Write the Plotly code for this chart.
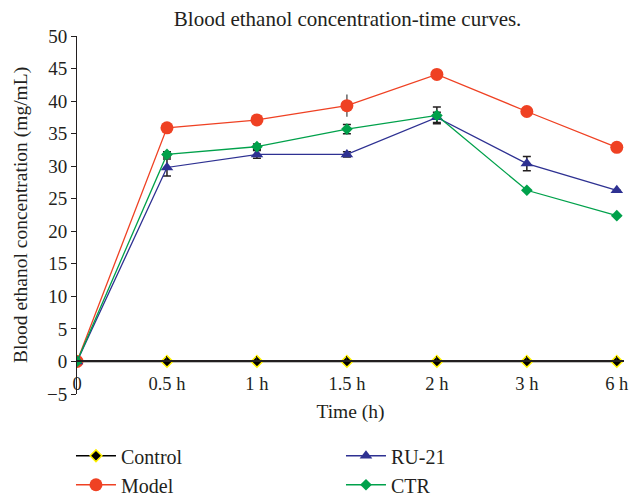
import plotly.graph_objects as go

times = ["0", "0.5 h", "1 h", "1.5 h", "2 h", "3 h", "6 h"]
xpos = [0, 1, 2, 3, 4, 5, 6]

control = [0, 0, 0, 0, 0, 0, 0]
model = [0, 35.9, 37.1, 39.3, 44.1, 38.4, 32.9]
model_err = [0, 0, 0.6, 1.7, 0.4, 0, 0]
ru21 = [0, 29.8, 31.8, 31.8, 37.5, 30.4, 26.3]
ru21_err = [0, 1.3, 0.6, 0.4, 0.8, 1.1, 0]
ctr = [0, 31.8, 33.0, 35.7, 37.8, 26.3, 22.4]
ctr_err = [0, 0.4, 0.4, 0.7, 1.3, 0, 0]

FONT = "Liberation Serif"
ERRC = "#231f20"

fig = go.Figure()

fig.add_trace(go.Scatter(
    x=xpos, y=control, name="Control", mode="lines+markers", legendrank=1,
    line=dict(color="#000000", width=1.5),
    marker=dict(symbol="diamond", size=9, color="#000000",
                line=dict(color="#FFF200", width=1.5)),
))
fig.add_trace(go.Scatter(
    x=xpos, y=model, name="Model", mode="lines+markers", legendrank=3,
    line=dict(color="#EF4123", width=1.3),
    marker=dict(symbol="circle", size=13, color="#EF4123"),
    error_y=dict(type="data", array=model_err, color="#666666", thickness=1.5, width=0),
))
fig.add_trace(go.Scatter(
    x=xpos, y=ru21, name="RU-21", mode="lines+markers", legendrank=2,
    line=dict(color="#2E3192", width=1.3),
    marker=dict(symbol="triangle-up", size=11, color="#2E3192"),
    error_y=dict(type="data", array=ru21_err, color=ERRC, thickness=1.5, width=4),
))
fig.add_trace(go.Scatter(
    x=xpos, y=ctr, name="CTR", mode="lines+markers", legendrank=4,
    line=dict(color="#00A14B", width=1.3),
    marker=dict(symbol="diamond", size=9, color="#00A14B"),
    error_y=dict(type="data", array=ctr_err, color=ERRC, thickness=1.5, width=4),
))

y0frac = 5 / 55

fig.update_layout(
    width=632, height=498,
    margin=dict(l=77, r=8, t=36, b=104, autoexpand=False),
    paper_bgcolor="white", plot_bgcolor="white",
    font=dict(family=FONT, size=16, color="#231f20"),
    title=dict(text="Blood ethanol concentration-time curves.", x=0.55, xanchor="center",
               y=0.963, yanchor="middle", font=dict(family=FONT, size=21, color="#231f20")),
    showlegend=True,
    legend=dict(orientation="h", x=-0.011, xanchor="left", y=-0.118, yanchor="top",
                entrywidth=215, entrywidthmode="pixels", traceorder="normal",
                font=dict(family=FONT, size=20, color="#231f20"),
                itemwidth=40, tracegroupgap=0),
    xaxis=dict(
        range=[0, 6.08], tickmode="array", tickvals=xpos, ticktext=times,
        showgrid=False, zeroline=False, showline=True, linecolor="#231f20", linewidth=1.5,
        ticks="inside", ticklen=5, tickcolor="#231f20", tickwidth=1,
        anchor="free", position=y0frac, ticklabelstandoff=6,
        tickfont=dict(family=FONT, size=18.5),
        title=dict(text="Time (h)", font=dict(family=FONT, size=19.5), standoff=10),
    ),
    yaxis=dict(
        range=[-5, 50], tickmode="array", tickvals=list(range(-5, 55, 5)),
        showgrid=False, zeroline=False, showline=True, linecolor="#231f20", linewidth=1,
        ticks="outside", ticklen=5, tickcolor="#231f20",
        tickfont=dict(family=FONT, size=19),
        title=dict(text="Blood ethanol concentration (mg/mL)", font=dict(family=FONT, size=19.5), standoff=14),
    ),
)

fig.write_html("out.html", config={"displayModeBar": False},
               post_script="document.body.style.margin='0';document.body.style.overflow='hidden';")
